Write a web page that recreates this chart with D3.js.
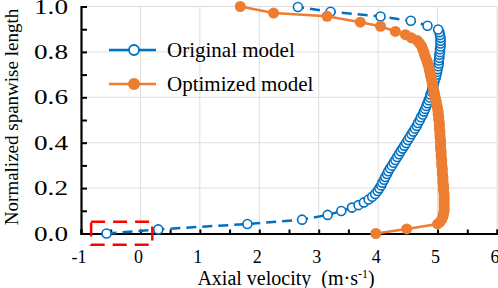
<!DOCTYPE html>
<html><head><meta charset="utf-8">
<script src="https://cdn.jsdelivr.net/npm/d3@7"></script>
<style>
html,body{margin:0;padding:0;background:#fff;}
</style></head>
<body><svg id="c" width="498" height="288" font-family="Liberation Serif"></svg>
<script>
// ---------- data ----------
const xTicks = [-1, 0, 1, 2, 3, 4, 5, 6];
const yTicks = [0.0, 0.2, 0.4, 0.6, 0.8, 1.0];
const seriesNames = ["Original model", "Optimized model"];
const originalX = [-0.57,0.30,1.80,2.72,3.15,3.38,3.56,3.67,3.76,3.84,3.90,3.95,3.99,4.02,4.05,4.07,4.10,4.12,4.15,4.17,4.20,4.23,4.26,4.29,4.32,4.35,4.38,4.41,4.44,4.47,4.50,4.53,4.56,4.59,4.62,4.65,4.67,4.70,4.72,4.75,4.77,4.79,4.81,4.83,4.85,4.87,4.88,4.90,4.91,4.93,4.94,4.95,4.97,4.98,4.99,5.00,5.01,5.02,5.02,5.03,5.03,5.04,5.04,5.05,5.05,5.05,5.05,5.04,5.03,5.01,4.83,4.55,4.04,3.20,2.65];
const originalY = [0.000,0.018,0.042,0.061,0.082,0.099,0.114,0.125,0.137,0.150,0.162,0.174,0.187,0.199,0.212,0.224,0.237,0.249,0.262,0.274,0.287,0.299,0.312,0.324,0.337,0.349,0.362,0.374,0.387,0.399,0.412,0.424,0.437,0.449,0.462,0.474,0.487,0.499,0.512,0.524,0.537,0.549,0.562,0.574,0.587,0.599,0.612,0.624,0.637,0.649,0.662,0.674,0.687,0.699,0.712,0.724,0.737,0.749,0.762,0.774,0.787,0.799,0.812,0.824,0.837,0.849,0.862,0.874,0.887,0.899,0.915,0.937,0.956,0.977,0.998];
const optimizedX = [3.96,4.48,5.00,5.04,5.07,5.09,5.10,5.11,5.11,5.11,5.11,5.11,5.11,5.11,5.10,5.10,5.10,5.09,5.09,5.09,5.08,5.08,5.08,5.07,5.07,5.07,5.06,5.06,5.06,5.05,5.05,5.05,5.05,5.04,5.04,5.04,5.03,5.03,5.03,5.02,5.02,5.01,5.01,5.00,4.99,4.98,4.97,4.96,4.95,4.94,4.93,4.92,4.91,4.90,4.89,4.88,4.87,4.86,4.85,4.83,4.82,4.80,4.78,4.77,4.75,4.73,4.70,4.66,4.56,4.46,4.29,4.04,3.70,3.14,2.24,1.68];
const optimizedY = [0.000,0.020,0.042,0.050,0.062,0.075,0.087,0.100,0.112,0.125,0.137,0.150,0.162,0.175,0.187,0.200,0.212,0.225,0.237,0.250,0.262,0.275,0.287,0.300,0.312,0.325,0.337,0.350,0.362,0.375,0.387,0.400,0.412,0.425,0.437,0.450,0.462,0.475,0.487,0.500,0.512,0.525,0.537,0.550,0.562,0.575,0.587,0.600,0.612,0.625,0.637,0.650,0.662,0.675,0.687,0.700,0.712,0.725,0.737,0.750,0.762,0.775,0.787,0.800,0.812,0.825,0.837,0.850,0.862,0.876,0.890,0.913,0.931,0.957,0.971,1.000];
// highlighted region (data units): [xMin, xMax], [yMin, yMax]
const highlightX = [-0.83, 0.20];
const highlightY = [-0.05, 0.052];

const blue = "#0070C0", orange = "#ED7D31";
const FONT = '"Liberation Serif"';

const svg = d3.select("#c");
const x = d3.scaleLinear().domain([-1, 6]).range([81, 497]);
const y = d3.scaleLinear().domain([0, 1]).range([233.5, 6.5]);

// gridlines
svg.append("g").selectAll("line").data(xTicks.slice(1)).join("line")
  .attr("x1", d => x(d)).attr("x2", d => x(d)).attr("y1", y(0)).attr("y2", y(1))
  .attr("stroke", "#dedede").attr("stroke-width", 1);
svg.append("g").selectAll("line").data(yTicks.slice(1)).join("line")
  .attr("x1", x(-1)).attr("x2", x(6)).attr("y1", d => y(d)).attr("y2", d => y(d))
  .attr("stroke", "#dedede").attr("stroke-width", 1);

// axes
const xAxis = d3.axisTop(x).tickValues(d3.range(-1, 6.01, 0.5)).tickSize(4).tickFormat("");
const gx = svg.append("g").attr("transform", `translate(0,${y(0)})`).call(xAxis);
gx.select(".domain").attr("stroke", "#000").attr("stroke-width", 2.2);
gx.selectAll(".tick line").attr("stroke", "#000").attr("stroke-width", 2);
const yAxis = d3.axisRight(y).tickValues(d3.range(0, 1.01, 0.1)).tickSize(6).tickFormat("");
const gy = svg.append("g").attr("transform", `translate(${x(-1)},0)`).call(yAxis);
gy.select(".domain").attr("stroke", "#000").attr("stroke-width", 2.2);
gy.selectAll(".tick line").attr("stroke", "#000").attr("stroke-width", 2);

// tick labels
svg.append("g").selectAll("text").data(xTicks).join("text")
  .attr("x", d => x(d) - 2).attr("y", 263).attr("text-anchor", "middle")
  .attr("font-family", "Liberation Serif")
  .style("font-family", FONT).style("font-size", "18px").text(d => d);
svg.append("g").selectAll("text").data(yTicks).join("text")
  .attr("x", 68).attr("y", d => y(d) + 7).attr("text-anchor", "end")
  .attr("font-family", "Liberation Serif")
  .style("font-family", FONT).style("font-size", "20px")
  .attr("textLength", 34).attr("lengthAdjust", "spacingAndGlyphs")
  .text(d => d.toFixed(1));

// axis titles
const xt = svg.append("text").attr("x", 286).attr("y", 285).attr("text-anchor", "middle")
  .attr("font-family", "Liberation Serif")
  .style("font-family", FONT).style("font-size", "20px");
xt.append("tspan").text("Axial velocity\u00a0\u00a0(m·s");
xt.append("tspan").attr("dy", -7).style("font-size", "12px").text("-1");
xt.append("tspan").attr("dy", 7).text(")");
svg.append("text").attr("transform", `translate(18,117) rotate(-90)`)
  .attr("text-anchor", "middle").attr("font-family", "Liberation Serif")
  .style("font-family", FONT).style("font-size", "19px")
  .text("Normalized spanwise length");

// highlight box
svg.append("rect")
  .attr("x", x(highlightX[0])).attr("y", y(highlightY[1]))
  .attr("width", x(highlightX[1]) - x(highlightX[0]))
  .attr("height", y(highlightY[0]) - y(highlightY[1]))
  .attr("fill", "none").attr("stroke", "#ff0000").attr("stroke-width", 2.5)
  .attr("stroke-dasharray", "14,8");

// series
const orig = originalX.map((v, i) => [v, originalY[i]]);
const opt = optimizedX.map((v, i) => [v, optimizedY[i]]);
const line = d3.line().x(d => x(d[0])).y(d => y(d[1]));

svg.append("path").datum(orig).attr("d", line).attr("fill", "none")
  .attr("stroke", blue).attr("stroke-width", 2.5).attr("stroke-dasharray", "10,6");
svg.append("g").selectAll("circle").data(orig).join("circle")
  .attr("cx", d => x(d[0])).attr("cy", d => y(d[1])).attr("r", 4.5)
  .attr("fill", "#fff").attr("stroke", blue).attr("stroke-width", 1.6);

svg.append("path").datum(opt).attr("d", line).attr("fill", "none")
  .attr("stroke", orange).attr("stroke-width", 2.5);
svg.append("g").selectAll("circle").data(opt).join("circle")
  .attr("cx", d => x(d[0])).attr("cy", d => y(d[1])).attr("r", 5.5)
  .attr("fill", orange);

// legend
const leg = svg.append("g");
const legY = [50, 84];
const legColors = [blue, orange];
seriesNames.forEach((name, i) => {
  leg.append("line").attr("x1", 109).attr("x2", 156).attr("y1", legY[i]).attr("y2", legY[i])
    .attr("stroke", legColors[i]).attr("stroke-width", 2.5);
  if (i === 0) {
    leg.append("circle").attr("cx", 134).attr("cy", legY[i]).attr("r", 5)
      .attr("fill", "#fff").attr("stroke", blue).attr("stroke-width", 1.8);
  } else {
    leg.append("circle").attr("cx", 134).attr("cy", legY[i]).attr("r", 6).attr("fill", orange);
  }
  leg.append("text").attr("x", 167).attr("y", legY[i] + 7)
    .attr("font-family", "Liberation Serif")
    .style("font-family", FONT).style("font-size", "21px").text(name);
});
</script></body></html>
